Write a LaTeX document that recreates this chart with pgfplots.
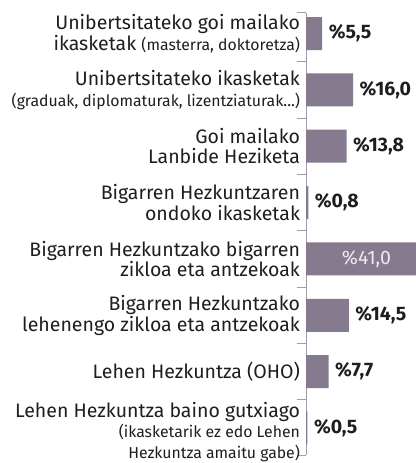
\documentclass[border=0pt]{standalone}
\usepackage{fontspec}
\setmainfont{Fira Sans}
\usepackage{pgfplots}
\pgfplotsset{compat=1.18}
\definecolor{barc}{HTML}{857A8E}
\definecolor{axc}{HTML}{A59BB0}
\definecolor{txt}{HTML}{1E1E1E}
\definecolor{inlbl}{HTML}{EEEAF0}
\newcommand{\sm}[1]{{\fontsize{15.8}{17}\selectfont #1}}
\begin{document}
\begin{tikzpicture}
\begin{axis}[
  at={(306pt,8pt)}, anchor=south west,
  scale only axis, width=109.15pt, height=442pt,
  xmin=0, xmax=37, ymin=-0.364, ymax=7.48,
  y dir=reverse,
  clip=false,
  hide x axis,
  axis y line*=left,
  y axis line style={draw=axc, line width=1pt},
  ytick={0,...,7},
  major tick length=0pt,
  minor ytick={-0.364,0.5,1.5,2.5,3.5,4.5,5.5,6.5,7.48},
  minor tick length=9pt,
  tick align=outside,
  minor tick style={draw=axc, line width=1pt},
  yticklabels={
    {Unibertsitateko goi mailako\\ikasketak \sm{(masterra, doktoretza)}},
    {Unibertsitateko ikasketak\\\sm{(graduak, diplomaturak, lizentziaturak...)}},
    {Goi mailako\\Lanbide Heziketa},
    {Bigarren Hezkuntzaren\\ondoko ikasketak},
    {Bigarren Hezkuntzako bigarren\\zikloa eta antzekoak},
    {Bigarren Hezkuntzako\\lehenengo zikloa eta antzekoak},
    {Lehen Hezkuntza (OHO)},
    {\rule{0pt}{23pt}Lehen Hezkuntza baino gutxiago\\\sm{(ikasketarik ez edo Lehen}\\\sm{Hezkuntza amaitu gabe)}}
  },
  yticklabel style={font=\fontsize{19.5}{20.5}\selectfont, align=right, text=txt, xshift=-2.5pt},
]
\addplot[xbar, bar width=33pt, bar shift=0pt, fill=barc, draw=none,
  nodes near coords, point meta=explicit symbolic,
  nodes near coords style={anchor=west, font=\bfseries\fontsize{19.5}{20.5}\selectfont, text=txt, xshift=3pt}]
  coordinates {
  (5.5,0) [\%5,5]
  (16.0,1) [\%16,0]
  (13.8,2) [\%13,8]
  (0.8,3) [\%0,8]
  (41.0,4) []
  (14.5,5) [\%14,5]
  (7.7,6) [\%7,7]
  (0.5,7) [\%0,5]
  };
\addplot[xbar, bar width=33pt, bar shift=0pt, fill=none, draw=none,
  nodes near coords, point meta=explicit symbolic,
  nodes near coords style={anchor=center, font=\fontsize{19.5}{20.5}\selectfont, text=inlbl}]
  coordinates {(20.5,4) [\%41,0]};
\end{axis}
\pgfresetboundingbox
\path[use as bounding box] (0,0) rectangle (415pt,463pt);
\end{tikzpicture}
\end{document}
